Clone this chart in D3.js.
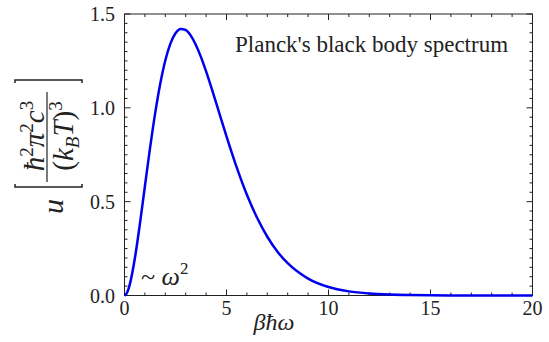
<!DOCTYPE html>
<html>
<head>
<meta charset="utf-8">
<script src="https://cdn.jsdelivr.net/npm/d3@7"></script>
</head>
<body style="margin:0; background:#fff">
<svg id="chart" width="549" height="342"></svg>
<script>
// values
const energy = [0, 0.1, 0.2, 0.25, 0.5, 0.75, 1, 1.25, 1.5, 1.75, 2, 2.25, 2.5, 2.75, 3,
  3.25, 3.5, 3.75, 4, 4.5, 5, 5.5, 6, 6.5, 7, 7.5, 8, 9, 10, 11, 12, 13, 14, 15, 16, 17, 18, 20];
const density = [0, 0.0095, 0.036, 0.055, 0.193, 0.378, 0.582, 0.784, 0.969, 1.127, 1.252, 1.342,
  1.397, 1.420, 1.415, 1.385, 1.335, 1.270, 1.194, 1.024, 0.848, 0.683, 0.537, 0.414, 0.313,
  0.233, 0.172, 0.090, 0.045, 0.022, 0.0106, 0.005, 0.0023, 0.001, 0.0005, 0.0002, 0.0001, 0.00002];

const xTicks = [0, 5, 10, 15, 20];
const yTicks = [0, 0.5, 1.0, 1.5];

const svg = d3.select('#chart');
const ink = '#222';
const serif = '"Liberation Serif"';

const x = d3.scaleLinear().domain([0, 20]).range([124.5, 532.5]);
const y = d3.scaleLinear().domain([0, 1.5]).range([295.5, 14]);

// frame
svg.append('rect')
  .attr('x', x(0)).attr('y', y(1.5))
  .attr('width', x(20) - x(0)).attr('height', y(0) - y(1.5))
  .attr('fill', 'none').attr('stroke', ink).attr('stroke-width', 1);

// ticks, pointing inward on all four sides
const ticks = svg.append('g').attr('stroke', ink).attr('stroke-width', 1);
d3.range(0, 21, 1).forEach(v => {
  const len = v % 5 === 0 ? 6 : 3;
  ticks.append('line').attr('x1', x(v)).attr('x2', x(v)).attr('y1', y(0)).attr('y2', y(0) - len);
  ticks.append('line').attr('x1', x(v)).attr('x2', x(v)).attr('y1', y(1.5)).attr('y2', y(1.5) + len);
});
d3.range(0, 31, 1).forEach(i => {
  const v = i * 0.05;
  const len = i % 10 === 0 ? 6 : 3;
  ticks.append('line').attr('y1', y(v)).attr('y2', y(v)).attr('x1', x(0)).attr('x2', x(0) + len);
  ticks.append('line').attr('y1', y(v)).attr('y2', y(v)).attr('x1', x(20)).attr('x2', x(20) - len);
});

// tick labels
svg.append('g').selectAll('text').data(xTicks).join('text')
  .attr('x', d => x(d)).attr('y', 315)
  .attr('text-anchor', 'middle').attr('font-size', 20).attr('fill', ink)
  .style('font-family', serif)
  .text(d => d);
svg.append('g').selectAll('text').data(yTicks).join('text')
  .attr('x', 115).attr('y', d => y(d)).attr('dy', '0.35em')
  .attr('text-anchor', 'end').attr('font-size', 20).attr('fill', ink)
  .style('font-family', serif)
  .text(d => d.toFixed(1));

// curve
const line = d3.line()
  .x((d, i) => x(energy[i]))
  .y(d => y(d))
  .curve(d3.curveMonotoneX);
svg.append('path')
  .datum(density)
  .attr('d', line)
  .attr('fill', 'none')
  .attr('stroke', '#0000ee')
  .attr('stroke-width', 2.5);

// annotations
svg.append('text')
  .attr('x', 235).attr('y', 52)
  .style('font-family', serif)
  .attr('font-size', 23).attr('fill', ink)
  .text("Planck's black body spectrum");

const lowText = svg.append('text')
  .attr('x', 141).attr('y', 285)
  .style('font-family', serif)
  .attr('font-size', 26).attr('fill', ink);
lowText.append('tspan').text('~ ');
lowText.append('tspan').attr('font-style', 'italic').text('ω');
lowText.append('tspan').attr('font-size', 17).attr('dy', -11).text('2');

// x axis title
svg.append('text')
  .attr('x', 274).attr('y', 330)
  .attr('text-anchor', 'middle')
  .style('font-family', serif)
  .attr('font-size', 24).attr('font-style', 'italic').attr('fill', ink)
  .text('βħω');

// y axis title: u [ ħ²π²c³ / (k_B T)³ ]
const yTitle = svg.append('g')
  .attr('transform', 'translate(48,136) rotate(-90)')
  .attr('fill', ink);

yTitle.append('text')
  .attr('x', -78).attr('y', 15)
  .style('font-family', serif)
  .attr('font-size', 30).attr('font-style', 'italic')
  .text('u');

const num = yTitle.append('text')
  .attr('x', 0).attr('y', -4)
  .attr('text-anchor', 'middle')
  .style('font-family', serif)
  .attr('font-size', 29).attr('font-style', 'italic');
num.append('tspan').text('ħ');
num.append('tspan').attr('font-size', 19).attr('font-style', 'normal').attr('dy', -11).text('2');
num.append('tspan').attr('dy', 11).text('π');
num.append('tspan').attr('font-size', 19).attr('font-style', 'normal').attr('dy', -11).text('2');
num.append('tspan').attr('dy', 11).text('c');
num.append('tspan').attr('font-size', 19).attr('font-style', 'normal').attr('dy', -11).text('3');

yTitle.append('line')
  .attr('x1', -46).attr('x2', 44).attr('y1', -1).attr('y2', -1)
  .attr('stroke', ink).attr('stroke-width', 1.2);

const den = yTitle.append('text')
  .attr('x', 0).attr('y', 25)
  .attr('text-anchor', 'middle')
  .style('font-family', serif)
  .attr('font-size', 29).attr('font-style', 'italic');
den.append('tspan').attr('font-style', 'normal').text('(');
den.append('tspan').text('k');
den.append('tspan').attr('font-size', 19).attr('dy', 6).text('B');
den.append('tspan').attr('dy', -6).text('T');
den.append('tspan').attr('font-style', 'normal').text(')');
den.append('tspan').attr('font-size', 19).attr('font-style', 'normal').attr('dy', -11).text('3');

// brackets
yTitle.append('path')
  .attr('d', 'M -48 -33 L -51 -33 L -51 34 L -48 34')
  .attr('fill', 'none').attr('stroke', ink).attr('stroke-width', 1.5);
yTitle.append('path')
  .attr('d', 'M 53 -33 L 56 -33 L 56 34 L 53 34')
  .attr('fill', 'none').attr('stroke', ink).attr('stroke-width', 1.5);
</script>
</body>
</html>
